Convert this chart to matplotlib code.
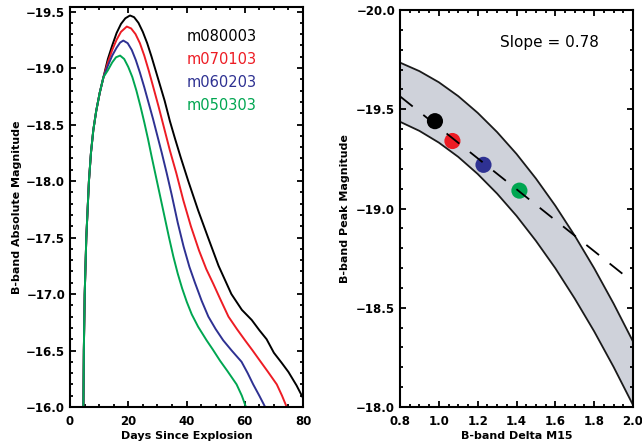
import numpy as np
import matplotlib
matplotlib.use('Agg')
import matplotlib.pyplot as plt
from matplotlib.ticker import MultipleLocator

# --- light curves (days since explosion, B-band absolute magnitude) ---
# shared rise, all four models overlap here
rise_days = [4.6, 4.75, 5.05, 5.6, 6.5, 7.2, 8.0, 9.0, 10.2, 11.5]
rise_mag = [-16.0, -16.5, -17.0, -17.5, -18.0, -18.25, -18.45, -18.62, -18.78, -18.92]

black_days = [13.0, 14.5, 16.0, 17.5, 19.0, 20.6, 22.0, 23.5, 25.0, 26.5, 28.0, 29.5, 31.0,
              32.5, 34.3, 36.0, 38.0, 40.6, 44.0, 47.4, 51.0, 55.4, 59.0, 62.4, 65.0, 67.5,
              70.0, 72.7, 75.0, 77.8, 80.0]
black_mag = [-19.08, -19.2, -19.31, -19.39, -19.44, -19.465, -19.45, -19.40, -19.32, -19.22,
             -19.10, -18.97, -18.84, -18.71, -18.53, -18.38, -18.21, -18.00, -17.74, -17.50,
             -17.25, -17.00, -16.86, -16.77, -16.68, -16.60, -16.48, -16.39, -16.31, -16.19,
             -16.08]

red_days = [13.0, 14.5, 16.0, 17.5, 19.5, 21.0, 22.5, 24.0, 25.5, 27.0, 28.5, 30.4, 32.0,
            34.3, 36.5, 38.9, 41.5, 44.3, 46.8, 49.2, 51.5, 54.4, 57.3, 60.1, 62.7, 65.2,
            68.0, 71.0, 72.8, 74.4]
red_mag = [-19.05, -19.16, -19.25, -19.32, -19.367, -19.35, -19.30, -19.22, -19.11, -18.98,
           -18.84, -18.66, -18.50, -18.27, -18.07, -17.83, -17.60, -17.385, -17.22, -17.09,
           -16.96, -16.80, -16.69, -16.59, -16.50, -16.41, -16.31, -16.20, -16.10, -16.00]

blue_days = [13.0, 14.5, 16.0, 17.2, 18.3, 19.8, 21.2, 22.6, 24.0, 25.5, 27.0, 28.5, 30.0,
             31.5, 33.2, 34.9, 37.0, 39.0, 41.0, 42.9, 45.2, 47.5, 50.0, 52.6, 55.5, 58.9,
             61.0, 62.9, 65.0, 67.0]
blue_mag = [-19.02, -19.11, -19.18, -19.225, -19.243, -19.22, -19.16, -19.07, -18.96, -18.83,
            -18.69, -18.55, -18.40, -18.25, -18.07, -17.88, -17.63, -17.42, -17.24, -17.10,
            -16.94, -16.80, -16.69, -16.59, -16.50, -16.40, -16.30, -16.20, -16.10, -16.00]

green_days = [13.0, 14.5, 15.8, 17.2, 18.6, 20.0, 21.4, 22.8, 24.2, 25.5, 26.8, 28.0, 29.5,
              31.0, 32.5, 34.0, 35.5, 37.0, 38.5, 40.1, 41.8, 44.0, 46.9, 49.0, 51.5, 54.0,
              57.2, 59.0, 60.4]
green_mag = [-18.98, -19.05, -19.095, -19.11, -19.08, -19.01, -18.92, -18.80, -18.66, -18.52,
             -18.37, -18.22, -18.04, -17.86, -17.68, -17.50, -17.33, -17.18, -17.05, -16.93,
             -16.82, -16.71, -16.59, -16.51, -16.41, -16.32, -16.20, -16.10, -16.00]

models = ['m080003', 'm070103', 'm060203', 'm050303']
colors = ['black', '#ed1c24', '#2e3192', '#00a651']

# --- peak magnitude vs Delta M15 ---
dm15 = [0.98, 1.07, 1.23, 1.415]
peak_mag = [-19.44, -19.34, -19.22, -19.09]
slope = 0.78
fit_mag_at_08 = -19.565
fit_range = [0.8, 1.96]

band_x = [0.8, 0.9, 1.0, 1.1, 1.2, 1.3, 1.4, 1.5, 1.6, 1.7, 1.8, 1.9, 2.0]
band_upper = [-19.735, -19.692, -19.636, -19.566, -19.482, -19.385, -19.275, -19.151,
              -19.014, -18.863, -18.699, -18.521, -18.330]
band_lower = [-19.437, -19.391, -19.332, -19.260, -19.174, -19.075, -18.963, -18.837,
              -18.699, -18.546, -18.381, -18.202, -18.010]

plt.rcParams['font.family'] = ['DejaVu Sans']
plt.rcParams['axes.linewidth'] = 1.5

fig = plt.figure(figsize=(6.42, 4.46), dpi=100)
ax1 = fig.add_axes([70 / 642, 39 / 446, 233 / 642, 400 / 446])
ax2 = fig.add_axes([400 / 642, 39 / 446, 233 / 642, 397 / 446])


def style_axes(ax):
    ax.tick_params(which='both', direction='in', top=True, right=True, width=1.3,
                   labelsize=8.5)
    ax.tick_params(axis='x', pad=6)
    ax.tick_params(which='major', length=4.5)
    ax.tick_params(which='minor', length=2.5)
    for lab in ax.get_xticklabels() + ax.get_yticklabels():
        lab.set_fontweight('bold')


# left panel
curves = [(black_days, black_mag), (red_days, red_mag), (blue_days, blue_mag),
          (green_days, green_mag)]
for (d, m), c in zip(curves, colors):
    ax1.plot(rise_days + d, rise_mag + m, color=c, lw=1.4)
for i, (name, c) in enumerate(zip(models, colors)):
    ax1.text(0.50, 0.925 - i * 0.0575, name, color=c, fontsize=10.5,
             transform=ax1.transAxes, va='center')
ax1.set_xlim(0, 80)
ax1.set_ylim(-16.0, -19.54)
ax1.xaxis.set_major_locator(MultipleLocator(20))
ax1.xaxis.set_minor_locator(MultipleLocator(5))
ax1.yaxis.set_major_locator(MultipleLocator(0.5))
ax1.yaxis.set_minor_locator(MultipleLocator(0.1))
ax1.yaxis.set_major_formatter(lambda v, p: f'{v:.1f}'.replace('-', '\u2212'))
ax1.set_xlabel('Days Since Explosion', fontsize=8, fontweight='bold', labelpad=2)
ax1.set_ylabel('B-band Absolute Magnitude', fontsize=8, fontweight='bold', labelpad=3)
style_axes(ax1)

# right panel
ax2.fill_between(band_x, band_upper, band_lower, color='#cfd2da', lw=0)
ax2.plot(band_x, band_upper, color='#1a1a1a', lw=1.3)
ax2.plot(band_x, band_lower, color='#1a1a1a', lw=1.3)
ax2.scatter(dm15, peak_mag, s=135, c=colors, zorder=3, lw=0)
fit_x = np.array(fit_range)
ax2.plot(fit_x, fit_mag_at_08 + slope * (fit_x - 0.8), color='black', lw=1.3,
         dashes=(9, 7.5), zorder=4)
ax2.text(0.64, 0.917, f'Slope = {slope:.2f}', transform=ax2.transAxes, ha='center',
         va='center', fontsize=11)
ax2.set_xlim(0.8, 2.0)
ax2.set_ylim(-18.0, -20.0)
ax2.xaxis.set_major_locator(MultipleLocator(0.2))
ax2.xaxis.set_minor_locator(MultipleLocator(0.05))
ax2.yaxis.set_major_locator(MultipleLocator(0.5))
ax2.yaxis.set_minor_locator(MultipleLocator(0.1))
ax2.xaxis.set_major_formatter(lambda v, p: f'{v:.1f}')
ax2.yaxis.set_major_formatter(lambda v, p: f'{v:.1f}'.replace('-', '\u2212'))
ax2.set_xlabel('B-band Delta M15', fontsize=8, fontweight='bold', labelpad=2)
ax2.set_ylabel('B-band Peak Magnitude', fontsize=8, fontweight='bold', labelpad=4)
style_axes(ax2)

fig.savefig('out.png', dpi=100)
